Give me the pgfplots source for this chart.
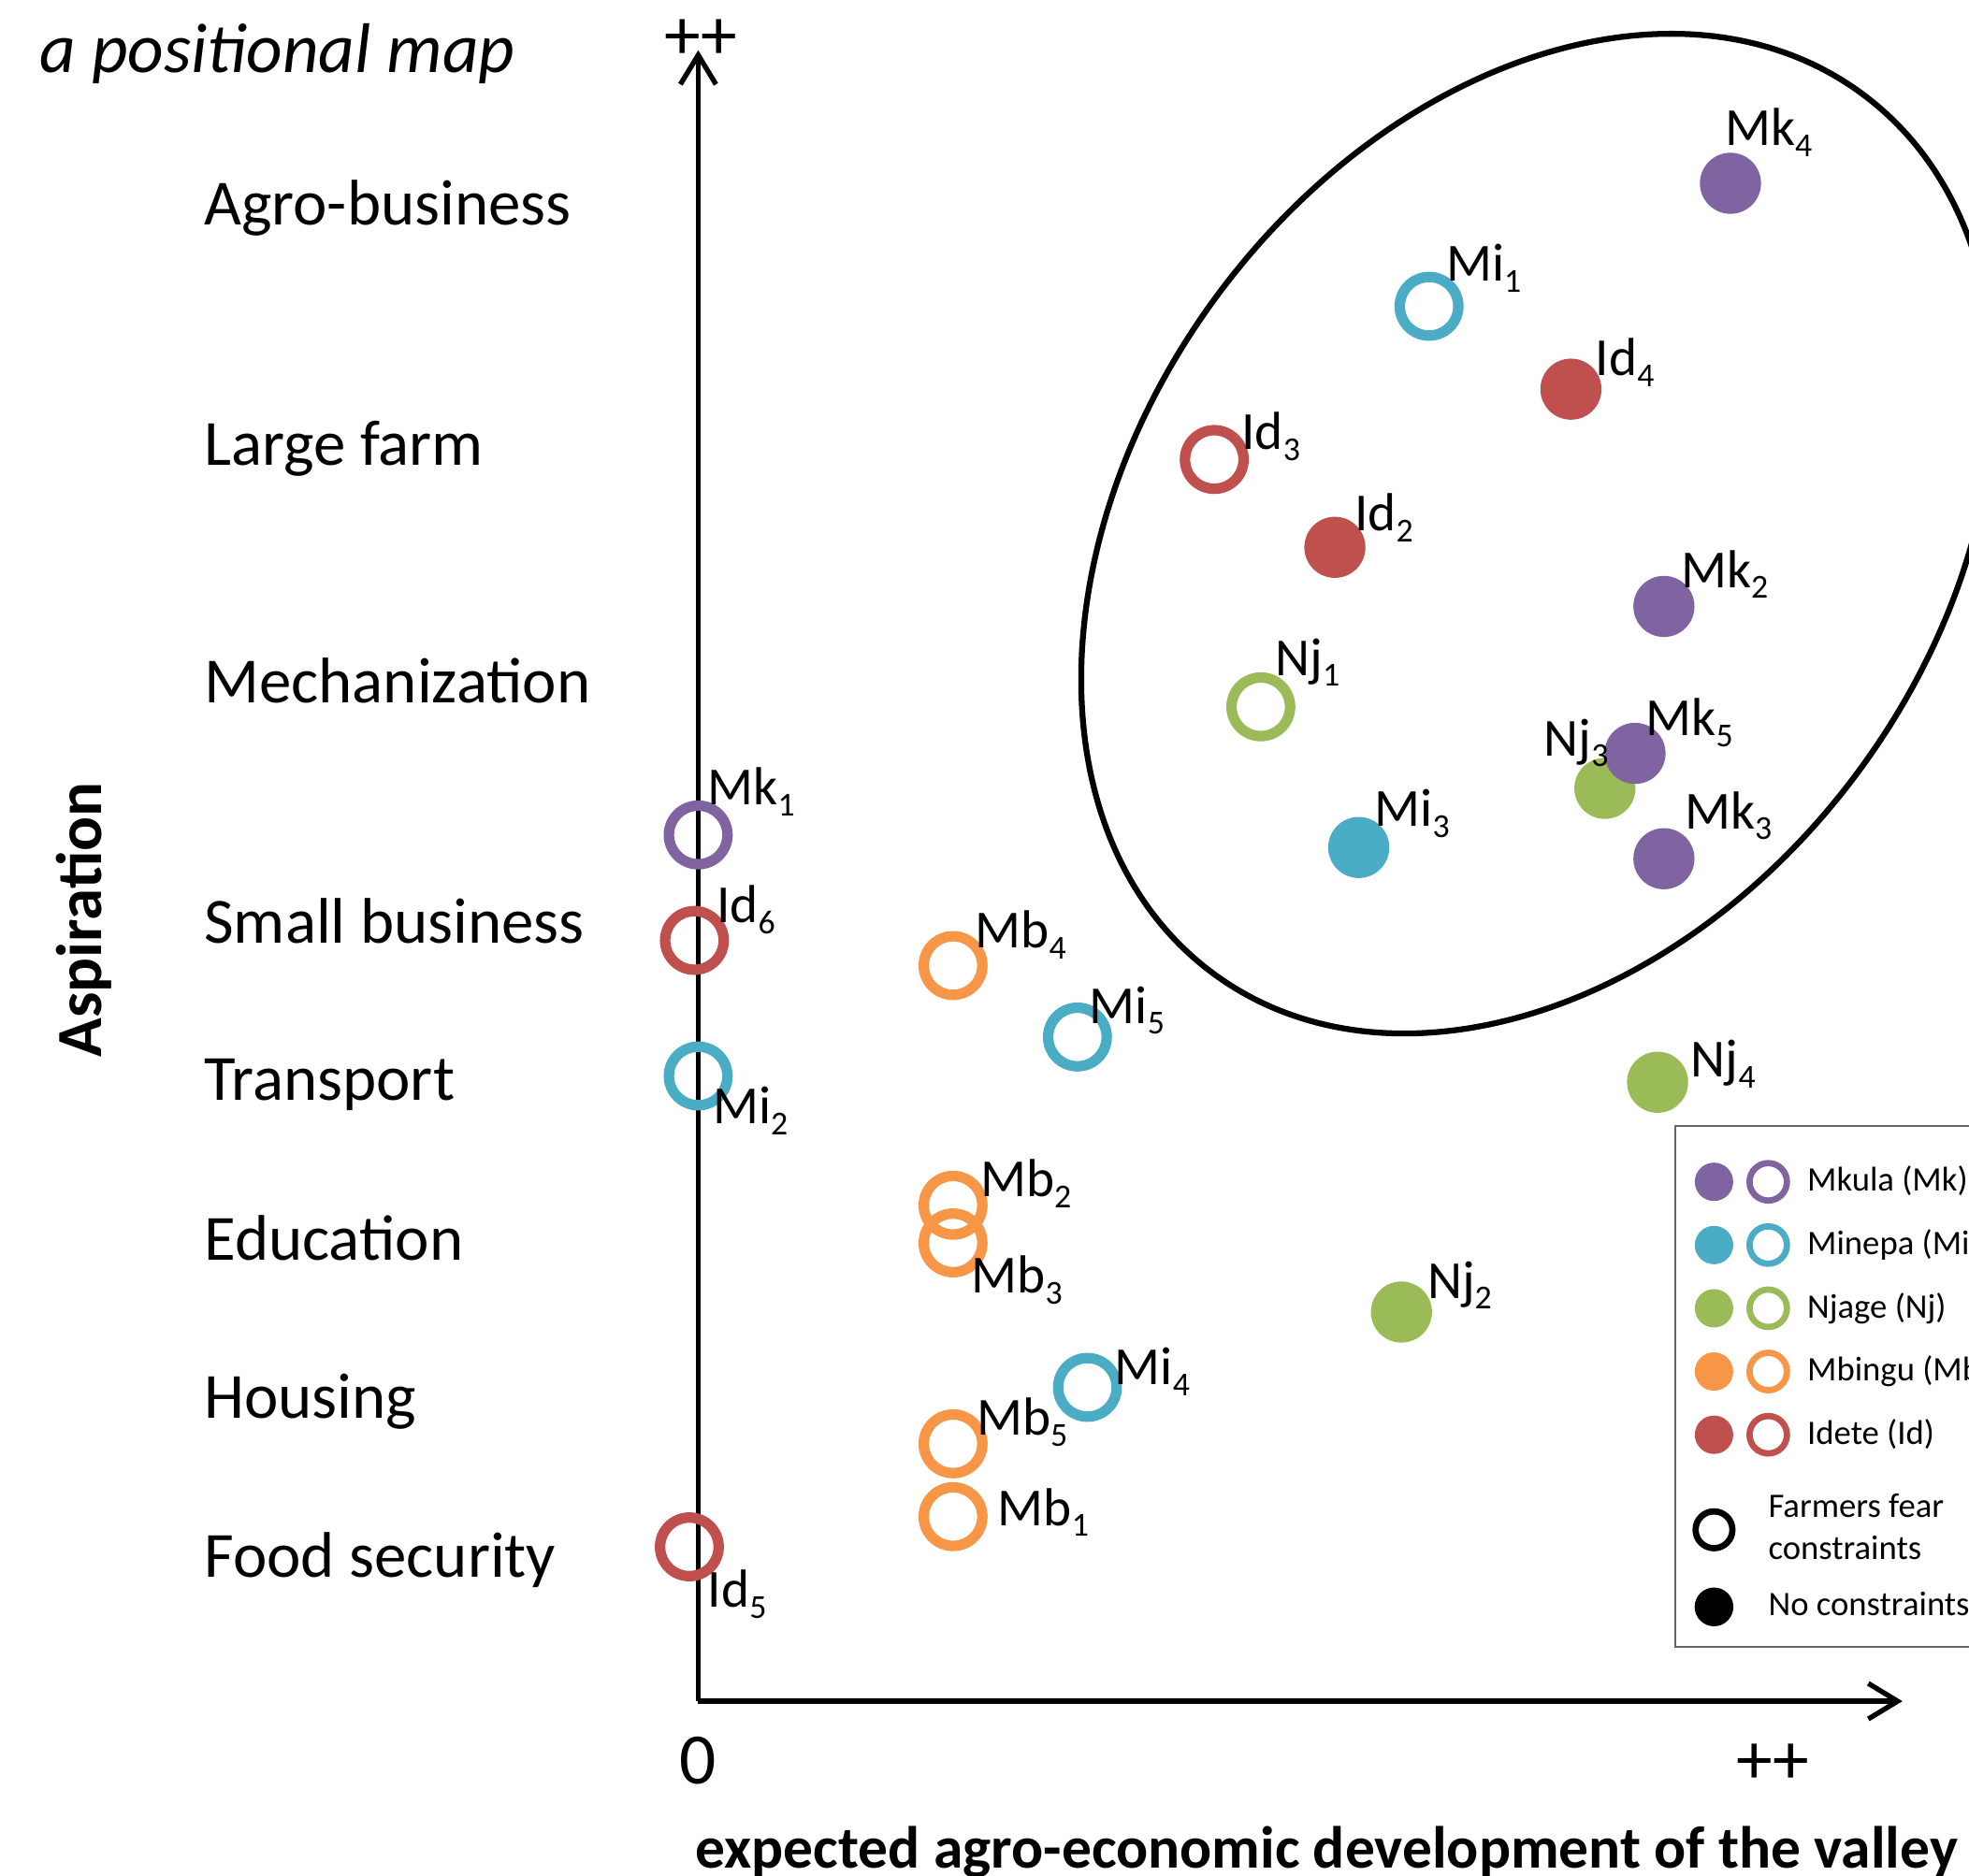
\documentclass[border=0pt]{standalone}
\usepackage{pgfplots}
\pgfplotsset{compat=1.18}
\usepackage{fontspec}
\setmainfont{Carlito}
\usetikzlibrary{arrows.meta}
\definecolor{cMk}{HTML}{8064A2}
\definecolor{cMi}{HTML}{4BACC6}
\definecolor{cNj}{HTML}{9BBB59}
\definecolor{cMb}{HTML}{F79646}
\definecolor{cId}{HTML}{C0504D}
\newcommand\sub[1]{\raisebox{-2.6pt}{\fontsize{8}{8}\selectfont #1}}
\pgfplotsset{
  filled/.style={only marks, color=#1, mark=*, mark size=7.1pt, mark options={draw=none, fill=#1}, forget plot},
  open/.style={only marks, color=#1, mark=o, mark size=7.0pt, mark options={draw=#1, line width=2.5pt}, forget plot},
  pairleg/.style={legend image code/.code={
    \fill[#1] (0pt,0pt) circle[radius=4.36pt];
    \draw[overlay, #1, line width=1.5pt] (12.96pt,0pt) circle[radius=4.47pt];
    \path[draw=none,fill=none] (-4.4pt,-5.2pt) rectangle (13.0pt,5.2pt);}},
  pairlegtop/.style={legend image code/.code={
    \fill[#1] (0pt,0pt) circle[radius=4.36pt];
    \draw[overlay, #1, line width=1.5pt] (12.96pt,0pt) circle[radius=4.47pt];
    \path[draw=none,fill=none] (-4.4pt,-5.2pt) rectangle (13.0pt,8.95pt);}},
  openleg/.style={legend image code/.code={
    \draw[black, line width=1.5pt] (0pt,0pt) circle[radius=4.4pt];
    \path[draw=none,fill=none] (-4.4pt,-5.2pt) rectangle (13.0pt,12.8pt);}},
  fillleg/.style={legend image code/.code={
    \fill[black] (0pt,0pt) circle[radius=4.4pt];
    \path[draw=none,fill=none] (-4.4pt,-5.2pt) rectangle (13.0pt,5.2pt);}},
}
\begin{document}
\begin{tikzpicture}
\useasboundingbox (-166.8pt,-41.7pt) rectangle (303.6pt,406.5pt);
\clip (-166.8pt,-41.7pt) rectangle (303.6pt,406.5pt);
\begin{axis}[
  at={(0pt,0pt)}, anchor=south west,
  scale only axis, width=287.7pt, height=394.5pt,
  xmin=0, xmax=11.203, ymin=0, ymax=10,
  enlargelimits=false, clip=false,
  axis lines=left,
  axis line style={line width=1.2pt, -{Straight Barb[length=7pt,width=8.5pt]}},
  major tick length=0pt, tick style={draw=none},
  xtick={0,10}, xticklabels={0,++},
  x tick label style={font=\fontsize{17.3}{18}\selectfont, anchor=base, yshift=-19.8pt, inner sep=0pt},
  ytick={9.065,7.612,6.175,4.715,3.764,2.798,1.840,0.875},
  yticklabels={Agro-business,Large farm,Mechanization,Small business,Transport,Education,Housing,Food security},
  y tick label style={font=\fontsize{15.4}{17}\selectfont, anchor=base west, xshift=-118.2pt, yshift=-4.96pt, inner sep=0pt},
  title={a positional map},
  title style={at={(axis description cs:-0.5474,0.9711)}, anchor=base west, inner sep=0pt, font=\fontsize{16.8}{18}\selectfont\itshape},
  xlabel={expected agro-economic development of the valley},
  xlabel style={at={(axis description cs:0.5219,-0.1011)}, anchor=base, inner sep=0pt, font=\fontsize{14.2}{16}\selectfont\bfseries},
  ylabel={Aspiration},
  ylabel style={at={(axis description cs:-0.4953,0.4734)}, anchor=base, inner sep=0pt, font=\fontsize{15.4}{17}\selectfont\bfseries},
  legend style={at={(axis cs:9.077,3.490)}, anchor=north west, draw=black!60, line width=0.45pt,
    inner xsep=4.2pt, inner ysep=4.4pt, row sep=4.71pt, column sep=0pt,
    nodes={inner sep=0pt}, font=\fontsize{8.2}{9.9}\selectfont},
  legend cell align=left,
]
% Njage filled first (under Mkula)
\addplot[filled=cNj] coordinates {(8.435,5.529) (8.925,3.749) (6.542,2.357)};
\addplot[open=cNj] coordinates {(5.234,6.023)};
\addplot[filled=cMk] coordinates {(9.603,9.194) (8.984,6.631) (8.715,5.741) (8.984,5.103)};
\addplot[open=cMk] coordinates {(0,5.247)};
\addplot[filled=cMi] coordinates {(6.145,5.171)};
\addplot[open=cMi] coordinates {(6.799,8.449) (3.528,4.023) (0,3.787) (3.621,1.901)};
\addplot[open=cMb] coordinates {(2.371,4.456) (2.371,3.004) (2.371,2.776) (2.371,1.559) (2.371,1.118)};
\addplot[filled=cId] coordinates {(8.119,7.947) (5.923,6.989)};
\addplot[open=cId] coordinates {(4.801,7.521) (-0.035,4.608) (-0.082,0.935)};

\draw[line width=1.4pt, rotate around={53.65:(axis cs:7.810,7.072)}] (axis cs:7.810,7.072) ellipse [x radius=130.6pt, y radius=95.4pt];

\node[anchor=base, inner sep=0pt, font=\fontsize{17.3}{18}\selectfont, yshift=-2.3pt, xshift=0.6pt] at (axis cs:0,10) {++};

% point labels, drawn last so they lie on top of the markers
\addplot[only marks, mark=none, forget plot, point meta=explicit symbolic,
  nodes near coords, nodes near coords align={anchor=base west},
  every node near coord/.style={anchor=base west, inner sep=0pt, black, font=\fontsize{12.8}{14}\selectfont}]
coordinates {
(9.544,9.422) [Mk\sub{4}]
(6.951,8.601) [Mi\sub{1}]
(8.341,8.030) [Id\sub{4}]
(5.047,7.582) [Id\sub{3}]
(6.098,7.087) [Id\sub{2}]
(9.136,6.745) [Mk\sub{2}]
(5.362,6.213) [Nj\sub{1}]
(7.862,5.726) [Nj\sub{3}]
(8.808,5.848) [Mk\sub{5}]
(6.285,5.300) [Mi\sub{3}]
(9.170,5.285) [Mk\sub{3}]
(0.082,5.430) [Mk\sub{1}]
(0.164,4.715) [Id\sub{6}]
(2.570,4.563) [Mb\sub{4}]
(3.633,4.106) [Mi\sub{5}]
(0.129,3.498) [Mi\sub{2}]
(9.229,3.780) [Nj\sub{4}]
(2.617,3.057) [Mb\sub{2}]
(2.535,2.471) [Mb\sub{3}]
(6.776,2.441) [Nj\sub{2}]
(3.867,1.916) [Mi\sub{4}]
(2.582,1.612) [Mb\sub{5}]
(2.780,1.065) [Mb\sub{1}]
(0.082,0.570) [Id\sub{5}]
};

\addlegendimage{pairlegtop=cMk}\addlegendentry[xshift=9.3pt]{Mkula (Mk)}
\addlegendimage{pairleg=cMi}\addlegendentry[xshift=9.3pt]{Minepa (Mi)}
\addlegendimage{pairleg=cNj}\addlegendentry[xshift=9.3pt]{Njage (Nj)}
\addlegendimage{pairleg=cMb}\addlegendentry[xshift=9.3pt]{Mbingu (Mb)}
\addlegendimage{pairleg=cId}\addlegendentry[xshift=9.3pt]{Idete (Id)}
\addlegendimage{openleg}\addlegendentry[align=left]{Farmers fear\\constraints}
\addlegendimage{fillleg}\addlegendentry{No constraints}
\end{axis}
\end{tikzpicture}
\end{document}
